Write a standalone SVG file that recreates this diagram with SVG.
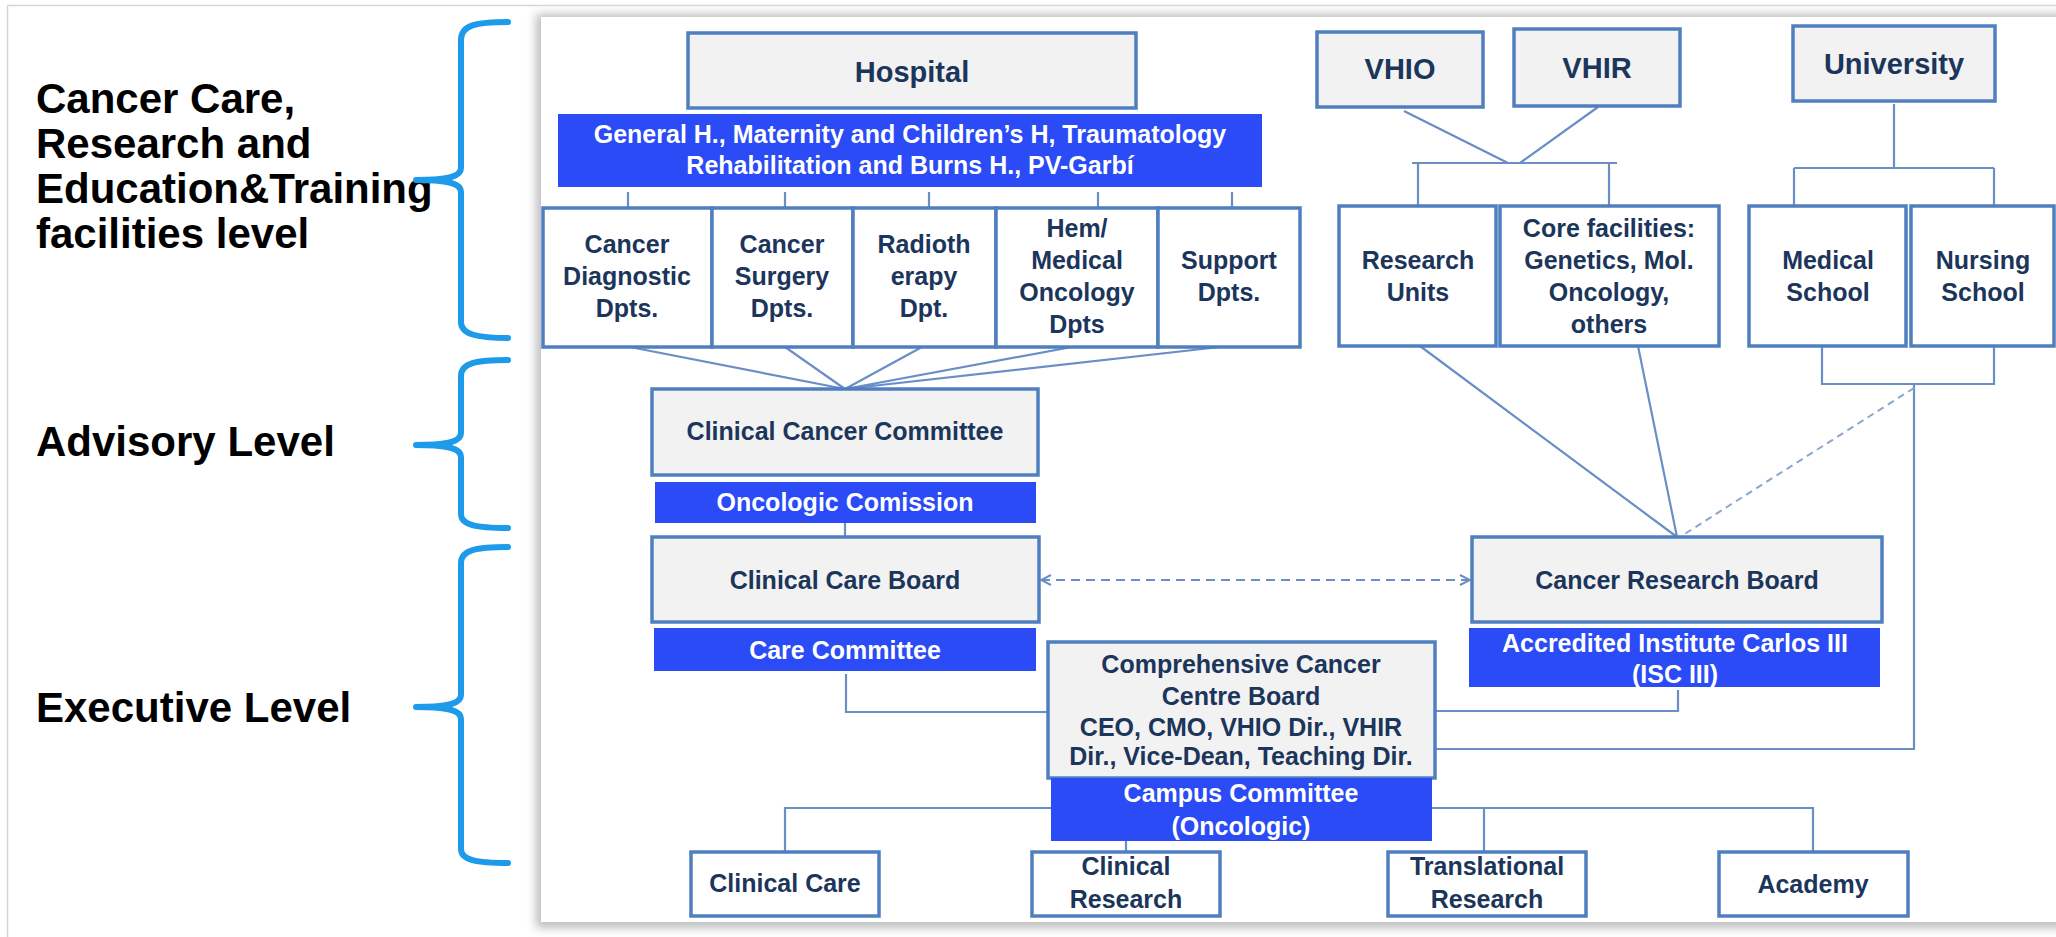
<svg xmlns="http://www.w3.org/2000/svg" width="2056" height="937" viewBox="0 0 2056 937">
<defs>
<style>
.lbl{font-family:"Liberation Sans",Arial,sans-serif;font-weight:bold;font-size:42px;fill:#000}
.t{font-family:"Liberation Sans",Arial,sans-serif;font-weight:bold;font-size:25px;fill:#1B355B;text-anchor:middle}
.tb{font-family:"Liberation Sans",Arial,sans-serif;font-weight:bold;font-size:29px;fill:#1B355B;text-anchor:middle}
.tw{font-family:"Liberation Sans",Arial,sans-serif;font-weight:bold;font-size:25px;fill:#fff;text-anchor:middle}
.g{fill:#F2F2F2;stroke:#4F7FBF;stroke-width:3.5}
.w{fill:#fff;stroke:#4F7FBF;stroke-width:3.5}
.band{fill:#2A4BF5}
.brace{fill:none;stroke:#1E9AEA;stroke-width:6;stroke-linecap:round;stroke-linejoin:round}
.c{fill:none;stroke:#6A8FC6;stroke-width:2.2}
.d{fill:none;stroke:#6A8FC6;stroke-width:2.2;stroke-dasharray:9 6}
.d2{fill:none;stroke:#8AA6D0;stroke-width:2;stroke-dasharray:7 5}
</style>
<marker id="chev" viewBox="0 0 12 12" refX="11" refY="6" markerWidth="12" markerHeight="12" markerUnits="userSpaceOnUse" orient="auto-start-reverse">
<path d="M1,1 L11,6 L1,11" fill="none" stroke="#6A8FC6" stroke-width="2"/>
</marker>
<filter id="sh" x="-5%" y="-5%" width="110%" height="110%">
<feGaussianBlur stdDeviation="5"/>
</filter>
</defs>
<rect x="0" y="0" width="2056" height="937" fill="#fff"/>
<rect x="7.5" y="5.5" width="2060" height="940" fill="none" stroke="#d6d6d6" stroke-width="1.5"/>
<g id="panel">
<rect x="536" y="14" width="1540" height="914" fill="#bdbdbd" filter="url(#sh)"/>
<rect x="541" y="17" width="1530" height="905" fill="#fff"/>
</g>
<g id="labels">
<text class="lbl" x="36" y="113">Cancer Care,</text>
<text class="lbl" x="36" y="158">Research and</text>
<text class="lbl" x="36" y="203">Education&amp;Training</text>
<text class="lbl" x="36" y="248">facilities level</text>
<text class="lbl" x="36" y="456">Advisory Level</text>
<text class="lbl" x="36" y="722">Executive Level</text>
</g>
<g id="braces">
<path class="brace" d="M508,22 C476,22 461,25 461,40 L461,168 C461,176 450,180 416,180 C450,180 461,184 461,192 L461,322 C461,334 476,338 508,338"/>
<path class="brace" d="M508,360 C476,360 461,363 461,376 L461,433 C461,441 450,445 416,445 C450,445 461,449 461,457 L461,514 C461,525 476,528 508,528"/>
<path class="brace" d="M508,547 C476,547 461,550 461,563 L461,695 C461,703 450,707 416,707 C450,707 461,711 461,719 L461,849 C461,860 476,863 508,863"/>
</g>
<g id="connectors">
<path class="c" d="M628,192 V208 M785,192 V208 M929,192 V208 M1098,192 V208 M1232,192 V208"/>
<path class="c" d="M630,347 L845,389 M785,347 L845,389 M922,347 L845,389 M1072,347 L845,389 M1220,347 L845,389"/>
<path class="c" d="M1404,111 L1508,163 M1598,107 L1520,163 M1412,163 H1617 M1418,163 V206 M1609,163 V206"/>
<path class="c" d="M1894,104 V168 M1794,168 H1994 M1794,168 V206 M1994,168 V206"/>
<path class="c" d="M1822,346 V384 H1994 V346 M1914,384 V749 H1435"/>
<path class="c" d="M1420,346 L1677,537 M1638,346 L1677,537"/>
<path class="d2" d="M1914,388 L1683,535"/>
<path class="c" d="M845,523 V537"/>
<path class="d" d="M1041,580 H1470" marker-start="url(#chev)" marker-end="url(#chev)"/>
<path class="c" d="M846,674 V712 H1048"/>
<path class="c" d="M1678,690 V711 H1435"/>
<path class="c" d="M1051,808 H785 V852 M1432,808 H1813 V852 M1484,808 V852 M1126,841 V852"/>
</g>
<g id="hospital">
<rect class="g" x="688" y="33" width="448" height="75"/>
<text class="tb" x="912" y="82">Hospital</text>
</g>
<g id="hospitals-band">
<rect class="band" x="558" y="114" width="704" height="73"/>
<text class="tw" x="910" y="143">General H., Maternity and Children’s H, Traumatology</text>
<text class="tw" x="910" y="174">Rehabilitation and Burns H., PV-Garbí</text>
</g>
<g id="cancer-diagnostic">
<rect class="w" x="543" y="208" width="169" height="139"/>
<text class="t" x="627" y="253">Cancer</text>
<text class="t" x="627" y="285">Diagnostic</text>
<text class="t" x="627" y="317">Dpts.</text>
</g>
<g id="cancer-surgery">
<rect class="w" x="712" y="208" width="141" height="139"/>
<text class="t" x="782" y="253">Cancer</text>
<text class="t" x="782" y="285">Surgery</text>
<text class="t" x="782" y="317">Dpts.</text>
</g>
<g id="radiotherapy">
<rect class="w" x="853" y="208" width="143" height="139"/>
<text class="t" x="924" y="253">Radioth</text>
<text class="t" x="924" y="285">erapy</text>
<text class="t" x="924" y="317">Dpt.</text>
</g>
<g id="hem-medical-oncology">
<rect class="w" x="996" y="208" width="162" height="139"/>
<text class="t" x="1077" y="237">Hem/</text>
<text class="t" x="1077" y="269">Medical</text>
<text class="t" x="1077" y="301">Oncology</text>
<text class="t" x="1077" y="333">Dpts</text>
</g>
<g id="support">
<rect class="w" x="1158" y="208" width="142" height="139"/>
<text class="t" x="1229" y="269">Support</text>
<text class="t" x="1229" y="301">Dpts.</text>
</g>
<g id="vhio">
<rect class="g" x="1317" y="32" width="166" height="75"/>
<text class="tb" x="1400" y="79">VHIO</text>
</g>
<g id="vhir">
<rect class="g" x="1514" y="29" width="166" height="77"/>
<text class="tb" x="1597" y="78">VHIR</text>
</g>
<g id="university">
<rect class="g" x="1793" y="26" width="202" height="75"/>
<text class="tb" x="1894" y="74">University</text>
</g>
<g id="research-units">
<rect class="w" x="1339" y="206" width="157" height="140"/>
<text class="t" x="1418" y="269">Research</text>
<text class="t" x="1418" y="301">Units</text>
</g>
<g id="core-facilities">
<rect class="w" x="1500" y="206" width="219" height="140"/>
<text class="t" x="1609" y="237">Core facilities:</text>
<text class="t" x="1609" y="269">Genetics, Mol.</text>
<text class="t" x="1609" y="301">Oncology,</text>
<text class="t" x="1609" y="333">others</text>
</g>
<g id="medical-school">
<rect class="w" x="1749" y="206" width="157" height="140"/>
<text class="t" x="1828" y="269">Medical</text>
<text class="t" x="1828" y="301">School</text>
</g>
<g id="nursing-school">
<rect class="w" x="1911" y="206" width="143" height="140"/>
<text class="t" x="1983" y="269">Nursing</text>
<text class="t" x="1983" y="301">School</text>
</g>
<g id="clinical-cancer-committee">
<rect class="g" x="652" y="389" width="386" height="86"/>
<text class="t" x="845" y="440">Clinical Cancer Committee</text>
</g>
<g id="oncologic-comission">
<rect class="band" x="655" y="482" width="381" height="41"/>
<text class="tw" x="845" y="511">Oncologic Comission</text>
</g>
<g id="clinical-care-board">
<rect class="g" x="652" y="537" width="387" height="85"/>
<text class="t" x="845" y="589">Clinical Care Board</text>
</g>
<g id="care-committee">
<rect class="band" x="654" y="628" width="382" height="43"/>
<text class="tw" x="845" y="659">Care Committee</text>
</g>
<g id="cancer-research-board">
<rect class="g" x="1472" y="537" width="410" height="85"/>
<text class="t" x="1677" y="589">Cancer Research Board</text>
</g>
<g id="accredited-institute">
<rect class="band" x="1469" y="628" width="411" height="59"/>
<text class="tw" x="1675" y="652">Accredited Institute Carlos III</text>
<text class="tw" x="1675" y="683">(ISC III)</text>
</g>
<g id="comprehensive-board">
<rect class="g" x="1048" y="642" width="387" height="136"/>
<text class="t" x="1241" y="673">Comprehensive Cancer</text>
<text class="t" x="1241" y="705">Centre Board</text>
<text class="t" x="1241" y="736">CEO, CMO, VHIO Dir., VHIR</text>
<text class="t" x="1241" y="765">Dir., Vice-Dean, Teaching Dir.</text>
</g>
<g id="campus-committee">
<rect class="band" x="1051" y="778" width="381" height="63"/>
<text class="tw" x="1241" y="802">Campus Committee</text>
<text class="tw" x="1241" y="835">(Oncologic)</text>
</g>
<g id="clinical-care">
<rect class="w" x="691" y="852" width="188" height="64"/>
<text class="t" x="785" y="892">Clinical Care</text>
</g>
<g id="clinical-research">
<rect class="w" x="1032" y="852" width="188" height="64"/>
<text class="t" x="1126" y="875">Clinical</text>
<text class="t" x="1126" y="908">Research</text>
</g>
<g id="translational-research">
<rect class="w" x="1388" y="852" width="198" height="64"/>
<text class="t" x="1487" y="875">Translational</text>
<text class="t" x="1487" y="908">Research</text>
</g>
<g id="academy">
<rect class="w" x="1719" y="852" width="189" height="64"/>
<text class="t" x="1813" y="893">Academy</text>
</g>
</svg>
